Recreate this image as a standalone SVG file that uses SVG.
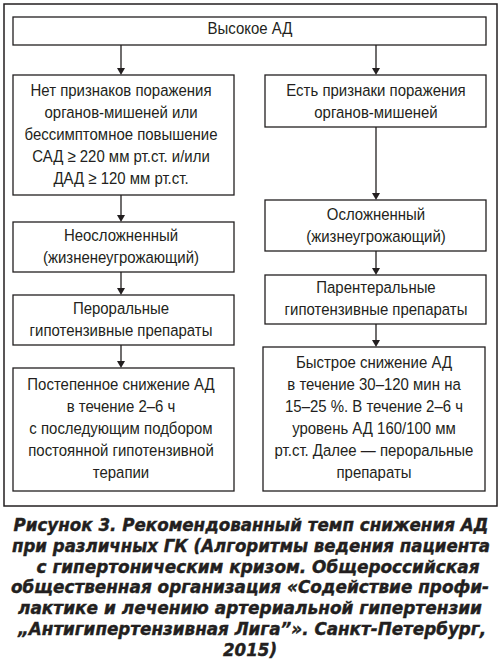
<svg xmlns="http://www.w3.org/2000/svg" width="502" height="664" viewBox="0 0 502 664">
<defs>
<style>
.box{fill:#fff;stroke:#231f20;stroke-width:1.3}
.t{font-family:"Liberation Sans",Arial,sans-serif;font-size:17px;fill:#231f20;text-anchor:middle}
.c{font-family:"DejaVu Sans","Liberation Sans",sans-serif;font-size:17px;font-weight:bold;font-style:italic;fill:#231f20;stroke:#231f20;stroke-width:0.4;text-anchor:middle}
.ln{stroke:#231f20;stroke-width:1.3;fill:none}
.ah{fill:#231f20}
</style>
</defs>
<rect x="0" y="0" width="502" height="664" fill="#fff"/>
<rect x="4" y="4" width="493" height="502" fill="none" stroke="#231f20" stroke-width="1.5"/>
<g id="connectors">
<line class="ln" x1="121" y1="45" x2="121" y2="70"/><path class="ah" d="M117,68 L125,68 L121,75 Z"/>
<line class="ln" x1="376" y1="45" x2="376" y2="70"/><path class="ah" d="M372,68 L380,68 L376,75 Z"/>
<line class="ln" x1="121" y1="195" x2="121" y2="217"/><path class="ah" d="M117,215 L125,215 L121,222 Z"/>
<line class="ln" x1="121" y1="272" x2="121" y2="290"/><path class="ah" d="M117,288 L125,288 L121,295 Z"/>
<line class="ln" x1="121" y1="345" x2="121" y2="363"/><path class="ah" d="M117,361 L125,361 L121,368 Z"/>
<line class="ln" x1="376" y1="127" x2="376" y2="195"/><path class="ah" d="M372,193 L380,193 L376,200 Z"/>
<line class="ln" x1="376" y1="251" x2="376" y2="270"/><path class="ah" d="M372,268 L380,268 L376,275 Z"/>
<line class="ln" x1="376" y1="324" x2="376" y2="342"/><path class="ah" d="M372,340 L380,340 L376,347 Z"/>
</g>
<g id="n0"><rect class="box" x="13" y="17" width="473" height="28"/>
<g transform="translate(30,0) scale(0.88,1)"><text class="t" x="250" y="34.5">Высокое АД</text></g></g>
<g id="n1"><rect class="box" x="13" y="75" width="221" height="120"/>
<g transform="translate(14.52,0) scale(0.88,1)">
<text class="t" x="121" y="96">Нет признаков поражения</text>
<text class="t" x="121" y="118">органов-мишеней или</text>
<text class="t" x="121" y="140">бессимптомное повышение</text>
<text class="t" x="121" y="162">САД ≥ 220 мм рт.ст. и/или</text>
<text class="t" x="121" y="184">ДАД ≥ 120 мм рт.ст.</text></g></g>
<g id="n2"><rect class="box" x="265" y="75" width="221" height="52"/>
<g transform="translate(45.12,0) scale(0.88,1)">
<text class="t" x="376" y="96">Есть признаки поражения</text>
<text class="t" x="376" y="118">органов-мишеней</text></g></g>
<g id="n3"><rect class="box" x="13" y="222" width="221" height="50"/>
<g transform="translate(14.52,0) scale(0.88,1)">
<text class="t" x="121" y="241">Неосложненный</text>
<text class="t" x="121" y="263">(жизненеугрожающий)</text></g></g>
<g id="n4"><rect class="box" x="265" y="200" width="221" height="51"/>
<g transform="translate(45.12,0) scale(0.88,1)">
<text class="t" x="376" y="220">Осложненный</text>
<text class="t" x="376" y="242">(жизнеугрожающий)</text></g></g>
<g id="n5"><rect class="box" x="13" y="295" width="221" height="50"/>
<g transform="translate(14.52,0) scale(0.88,1)">
<text class="t" x="121" y="314">Пероральные</text>
<text class="t" x="121" y="336">гипотензивные препараты</text></g></g>
<g id="n6"><rect class="box" x="265" y="275" width="221" height="49"/>
<g transform="translate(45.12,0) scale(0.88,1)">
<text class="t" x="376" y="293">Парентеральные</text>
<text class="t" x="376" y="315">гипотензивные препараты</text></g></g>
<g id="n7"><rect class="box" x="13" y="368" width="221" height="123"/>
<g transform="translate(14.52,0) scale(0.88,1)">
<text class="t" x="121" y="390">Постепенное снижение АД</text>
<text class="t" x="121" y="412">в течение 2–6 ч</text>
<text class="t" x="121" y="434">с последующим подбором</text>
<text class="t" x="121" y="456">постоянной гипотензивной</text>
<text class="t" x="121" y="478">терапии</text></g></g>
<g id="n8"><rect class="box" x="263" y="347" width="222" height="144"/>
<g transform="translate(44.88,0) scale(0.88,1)">
<text class="t" x="374" y="368">Быстрое снижение АД</text>
<text class="t" x="374" y="390">в течение 30–120 мин на</text>
<text class="t" x="374" y="412">15–25 %. В течение 2–6 ч</text>
<text class="t" x="374" y="434">уровень АД 160/100 мм</text>
<text class="t" x="374" y="456">рт.ст. Далее — пероральные</text>
<text class="t" x="374" y="478">препараты</text></g></g>
<g id="caption">
<text class="c" x="251" y="531" textLength="475" lengthAdjust="spacingAndGlyphs">Рисунок 3. Рекомендованный темп снижения АД</text>
<text class="c" x="251" y="552" textLength="478" lengthAdjust="spacingAndGlyphs">при различных ГК (Алгоритмы ведения пациента</text>
<text class="c" x="258" y="573" textLength="443" lengthAdjust="spacingAndGlyphs">с гипертоническим кризом. Общероссийская</text>
<text class="c" x="250" y="593" textLength="478" lengthAdjust="spacingAndGlyphs">общественная организация «Содействие профи-</text>
<text class="c" x="250" y="614" textLength="464" lengthAdjust="spacingAndGlyphs">лактике и лечению артериальной гипертензии</text>
<text class="c" x="252" y="635" textLength="468" lengthAdjust="spacingAndGlyphs">„Антигипертензивная Лига”». Санкт-Петербург,</text>
<text class="c" x="250" y="656" textLength="54" lengthAdjust="spacingAndGlyphs">2015)</text>
</g>
</svg>
